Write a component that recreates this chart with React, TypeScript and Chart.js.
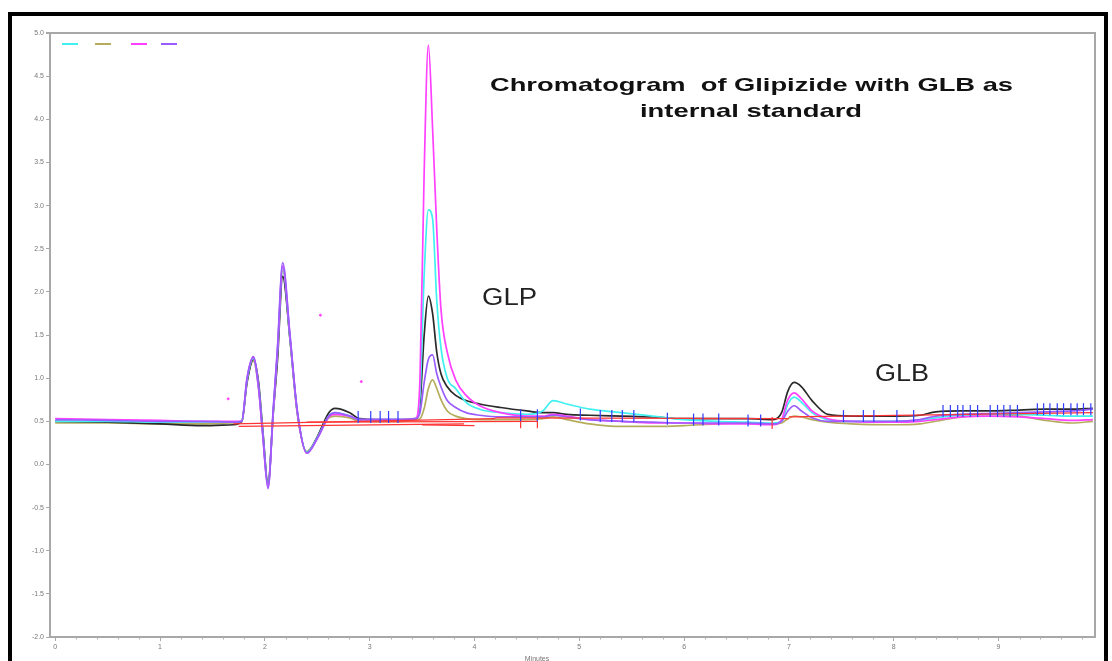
import React, { useEffect, useRef } from "react";
import { Chart, registerables } from "chart.js";

Chart.register(...registerables);

// Retention time (minutes) shared by the five chromatogram traces
const TIME = [
  0, 0.5, 1.0, 1.4, 1.7, 1.78, 1.83, 1.89, 1.94, 1.98,
  2.03, 2.08, 2.12, 2.17, 2.24, 2.31, 2.4, 2.5, 2.61, 2.67,
  2.81, 2.9, 3.1, 3.3, 3.44, 3.48, 3.52, 3.56, 3.6, 3.64,
  3.68, 3.74, 3.82, 3.92, 4.05, 4.25, 4.5, 4.65, 4.75, 4.88,
  5.1, 5.4, 5.7, 6.0, 6.3, 6.6, 6.85, 6.93, 6.99, 7.05,
  7.12, 7.22, 7.37, 7.6, 8.0, 8.25, 8.4, 8.65, 8.9, 9.2,
  9.45, 9.7, 9.9,
];

const BLACK_TRACE = [
  0.5, 0.49, 0.47, 0.45, 0.46, 0.5, 0.95, 1.22, 0.95, 0.4,
  -0.22, 0.6, 1.2, 2.18, 1.45, 0.6, 0.14, 0.32, 0.6, 0.65,
  0.6, 0.53, 0.52, 0.52, 0.53, 0.7, 1.5, 1.95, 1.75, 1.3,
  1.05, 0.9, 0.8, 0.74, 0.7, 0.66, 0.62, 0.6, 0.6, 0.58,
  0.57, 0.56, 0.55, 0.53, 0.53, 0.53, 0.52, 0.6, 0.85, 0.95,
  0.9, 0.74, 0.58, 0.56, 0.56, 0.57, 0.61, 0.62, 0.62, 0.63,
  0.64, 0.64, 0.65,
];

const PURPLE_TRACE = [
  0.52, 0.51, 0.5, 0.5, 0.49, 0.5, 1.0, 1.25, 0.9, 0.35,
  -0.28, 0.65, 1.35, 2.34, 1.5, 0.62, 0.13, 0.3, 0.56, 0.6,
  0.56, 0.52, 0.52, 0.52, 0.53, 0.6, 0.95, 1.22, 1.27, 1.05,
  0.9, 0.74, 0.66, 0.6, 0.57, 0.55, 0.55, 0.55, 0.57, 0.55,
  0.52, 0.5, 0.49, 0.48, 0.48, 0.48, 0.47, 0.5, 0.62, 0.68,
  0.62, 0.54, 0.5, 0.5, 0.5, 0.52, 0.56, 0.58, 0.59, 0.6,
  0.61, 0.62, 0.64,
];

const MAGENTA_TRACE = [
  0.53, 0.52, 0.51, 0.5, 0.5, 0.5, 1.0, 1.24, 0.88, 0.33,
  -0.27, 0.62, 1.32, 2.3, 1.48, 0.6, 0.13, 0.3, 0.55, 0.58,
  0.56, 0.52, 0.52, 0.52, 0.53, 1.0, 3.4, 4.86, 3.9, 2.72,
  1.8, 1.3, 0.98, 0.8, 0.68, 0.6, 0.56, 0.56, 0.58, 0.56,
  0.52, 0.5, 0.48, 0.48, 0.47, 0.47, 0.46, 0.52, 0.75, 0.83,
  0.76, 0.62, 0.53, 0.5, 0.49, 0.5, 0.52, 0.55, 0.56, 0.55,
  0.53, 0.51, 0.52,
];

const CYAN_TRACE = [
  0.5, 0.5, 0.49, 0.49, 0.49, 0.5, 0.98, 1.23, 0.9, 0.36,
  -0.25, 0.62, 1.3, 2.28, 1.46, 0.6, 0.14, 0.31, 0.56, 0.6,
  0.56, 0.52, 0.52, 0.52, 0.53, 0.8, 2.2, 2.95, 2.85, 1.9,
  1.35, 1.0, 0.88, 0.72, 0.64, 0.6, 0.58, 0.62, 0.74, 0.7,
  0.64, 0.6, 0.56, 0.52, 0.5, 0.49, 0.48, 0.5, 0.7, 0.78,
  0.72, 0.6, 0.52, 0.5, 0.5, 0.51, 0.54, 0.57, 0.58, 0.58,
  0.57, 0.56, 0.56,
];

const OLIVE_TRACE = [
  0.48, 0.48, 0.47, 0.47, 0.48, 0.49, 0.96, 1.2, 0.88, 0.36,
  -0.24, 0.6, 1.28, 2.25, 1.44, 0.58, 0.15, 0.31, 0.54, 0.56,
  0.54, 0.5, 0.5, 0.5, 0.52, 0.53, 0.65, 0.88, 0.98, 0.88,
  0.75, 0.62, 0.56, 0.53, 0.52, 0.52, 0.52, 0.53, 0.55, 0.52,
  0.47, 0.44, 0.44, 0.45, 0.47, 0.48, 0.47, 0.48, 0.53, 0.56,
  0.55, 0.52, 0.49, 0.47, 0.46, 0.47, 0.5, 0.55, 0.58, 0.56,
  0.51, 0.48, 0.5,
];

// Integration baselines (red straight segments)
const RED_SEG_X0 = [1.7, 1.75, 2.4, 3.5, 4.2, 7.0];
const RED_SEG_Y0 = [0.47, 0.44, 0.49, 0.46, 0.54, 0.55];
const RED_SEG_X1 = [4.2, 3.9, 4.6, 4.0, 7.0, 9.9];
const RED_SEG_Y1 = [0.53, 0.47, 0.5, 0.45, 0.53, 0.6];

// Peak start/end markers
const BLUE_TICK_T = [
  2.89, 3.01, 3.1, 3.18, 3.27, 4.44, 4.6, 5.01, 5.2, 5.31,
  5.41, 5.52, 5.84, 6.09, 6.18, 6.33, 6.61, 6.73, 7.52, 7.71,
  7.81, 8.03, 8.19, 8.47, 8.54, 8.61, 8.66, 8.73, 8.8, 8.92,
  8.99, 9.05, 9.11, 9.18, 9.37, 9.43, 9.49, 9.56, 9.62, 9.69,
  9.75, 9.81, 9.88,
];
const BLUE_TICK_Y = [
  0.55, 0.55, 0.55, 0.55, 0.55, 0.57, 0.57, 0.58, 0.56, 0.56,
  0.56, 0.56, 0.53, 0.52, 0.52, 0.52, 0.51, 0.51, 0.56, 0.56,
  0.56, 0.56, 0.56, 0.62, 0.62, 0.62, 0.62, 0.62, 0.62, 0.62,
  0.62, 0.62, 0.62, 0.62, 0.64, 0.64, 0.64, 0.64, 0.64, 0.64,
  0.64, 0.64, 0.64,
];
const RED_TICK_T = [4.44, 4.6, 6.84];
const RED_TICK_Y = [0.49, 0.49, 0.48];

const STRAY_T = [1.65, 2.53, 2.92];
const STRAY_Y = [0.76, 1.73, 0.96];

const X_MIN = -0.05;
const X_MAX = 9.92;
const Y_MIN = -2;
const Y_MAX = 5;

const TITLE_LINES = ["Chromatogram  of Glipizide with GLB as", "internal standard"];
const PEAK_LABELS = ["GLP", "GLB"];
const X_TITLE = "Minutes";

const C_CYAN = "#40f0f0";
const C_OLIVE = "#b5ad5c";
const C_MAGENTA = "#ff40ff";
const C_PURPLE = "#9a5cff";
const C_BLACK = "#2a2a2a";
const C_RED = "#ff3434";
const C_BLUE = "#2f3cff";
const LEGEND_COLORS = [C_CYAN, C_OLIVE, C_MAGENTA, C_PURPLE];

// draw text stretched horizontally so it spans the given width
function stretchText(ctx: CanvasRenderingContext2D, text: string, x: number, y: number, width: number) {
  const w = ctx.measureText(text).width;
  const sx = width / w;
  ctx.save();
  ctx.translate(x, y);
  ctx.scale(sx, 1);
  ctx.textAlign = "left";
  ctx.fillText(text, 0, 0);
  ctx.restore();
}

const annotPlugin = {
  id: "annot",
  afterDraw(chart: any) {
    const { ctx, chartArea: a, scales } = chart;
    const xs = scales.x;
    ctx.save();
    // top & right frame
    ctx.strokeStyle = "#a8a8a8";
    ctx.lineWidth = 2;
    ctx.beginPath();
    ctx.moveTo(a.left - 4, a.top);
    ctx.lineTo(a.right, a.top);
    ctx.lineTo(a.right, a.bottom);
    ctx.stroke();
    // minor x ticks
    ctx.lineWidth = 1;
    ctx.strokeStyle = "#b0b0b0";
    for (let v = 0.2; v < X_MAX; v += 0.2) {
      if (Math.abs(v - Math.round(v)) < 0.01) continue;
      const px = Math.round(xs.getPixelForValue(v)) + 0.5;
      ctx.beginPath();
      ctx.moveTo(px, a.bottom);
      ctx.lineTo(px, a.bottom + 2.5);
      ctx.stroke();
    }
    // legend dashes
    ctx.lineWidth = 2;
    const legX = [62, 95, 131, 161];
    LEGEND_COLORS.forEach((c, i) => {
      ctx.strokeStyle = c;
      ctx.beginPath();
      ctx.moveTo(legX[i], a.top + 11);
      ctx.lineTo(legX[i] + 16, a.top + 11);
      ctx.stroke();
    });
    // title
    ctx.fillStyle = "#111";
    ctx.textBaseline = "alphabetic";
    ctx.font = 'bold 19px "Liberation Sans", Arial, sans-serif';
    stretchText(ctx, TITLE_LINES[0], 490, 91, 523);
    stretchText(ctx, TITLE_LINES[1], 640, 117, 222);
    // peak labels
    ctx.fillStyle = "#222";
    ctx.font = '23px "Liberation Sans", Arial, sans-serif';
    stretchText(ctx, PEAK_LABELS[0], 482, 305, 55);
    stretchText(ctx, PEAK_LABELS[1], 875, 381, 54);
    // x axis title
    ctx.fillStyle = "#777";
    ctx.font = '7px "Liberation Sans", Arial, sans-serif';
    ctx.textAlign = "center";
    ctx.fillText(X_TITLE, 537, 661);
    ctx.restore();
  },
};

export default function App() {
  const ref = useRef<HTMLCanvasElement>(null);

  useEffect(() => {
    const canvas = ref.current;
    if (!canvas) return;
    const pts = (ys: number[]) => TIME.map((t, i) => ({ x: t, y: ys[i] }));
    const trace = (label: string, ys: number[], color: string) => ({
      label,
      data: pts(ys),
      borderColor: color,
      backgroundColor: color,
      borderWidth: 1.7,
      pointRadius: 0,
      cubicInterpolationMode: "monotone" as const,
      fill: false,
    });
    const redSegs = RED_SEG_X0.map((x0, i) => ({
      label: "baseline " + (i + 1),
      data: [
        { x: x0, y: RED_SEG_Y0[i] },
        { x: RED_SEG_X1[i], y: RED_SEG_Y1[i] },
      ],
      borderColor: C_RED,
      borderWidth: 1.3,
      pointRadius: 0,
      tension: 0,
      fill: false,
    }));
    const tickSet = (label: string, ts: number[], ys: number[], color: string, r: number) => ({
      label,
      data: ts.map((t, i) => ({ x: t, y: ys[i] })),
      showLine: false,
      pointStyle: "line" as const,
      rotation: 90,
      pointRadius: r,
      pointHoverRadius: r,
      borderColor: color,
      backgroundColor: color,
      pointBorderWidth: 1.2,
      borderWidth: 1.2,
    });

    const chart = new Chart(canvas, {
      type: "line",
      data: {
        datasets: [
          tickSet("blue marks", BLUE_TICK_T, BLUE_TICK_Y, C_BLUE, 6),
          tickSet("red marks", RED_TICK_T, RED_TICK_Y, C_RED, 6),
          ...redSegs,
          trace("Purple", PURPLE_TRACE, C_PURPLE),
          trace("Magenta", MAGENTA_TRACE, C_MAGENTA),
          trace("Cyan", CYAN_TRACE, C_CYAN),
          trace("Black", BLACK_TRACE, C_BLACK),
          trace("Olive", OLIVE_TRACE, C_OLIVE),
          {
            label: "stray",
            data: STRAY_T.map((t, i) => ({ x: t, y: STRAY_Y[i] })),
            showLine: false,
            pointRadius: 1,
            borderColor: C_MAGENTA,
            backgroundColor: C_MAGENTA,
          },
        ] as any,
      },
      options: {
        animation: false,
        responsive: false,
        events: [],
        layout: { padding: { left: 0, right: 17, top: 33, bottom: 0 } },
        plugins: {
          legend: { display: false },
          title: { display: false },
          tooltip: { enabled: false },
        },
        scales: {
          x: {
            type: "linear",
            min: X_MIN,
            max: X_MAX,
            afterFit: (s: any) => {
              s.height = 24;
            },
            afterBuildTicks: (s: any) => {
              s.ticks = [0, 1, 2, 3, 4, 5, 6, 7, 8, 9].map((v) => ({ value: v }));
            },
            ticks: {
              autoSkip: false,
              maxRotation: 0,
              padding: 2,
              color: "#777",
              font: { size: 7, family: '"Liberation Sans", Arial, sans-serif' },
              callback: (v: any) => String(v),
            } as any,
            grid: {
              drawOnChartArea: false,
              drawTicks: true,
              tickLength: 4,
              color: "#a8a8a8",
            },
            border: { display: true, color: "#a8a8a8", width: 2 },
          },
          y: {
            type: "linear",
            min: Y_MIN,
            max: Y_MAX,
            afterFit: (s: any) => {
              s.width = 50;
            },
            ticks: {
              stepSize: 0.5,
              includeBounds: false,
              autoSkip: false,
              padding: 2,
              color: "#777",
              font: { size: 7, family: '"Liberation Sans", Arial, sans-serif' },
              callback: (v: any) => Number(v).toFixed(1),
            } as any,
            grid: {
              drawOnChartArea: false,
              drawTicks: true,
              tickLength: 4,
              color: "#a8a8a8",
            },
            border: { display: true, color: "#a8a8a8", width: 2 },
          },
        },
      },
      plugins: [annotPlugin],
    });
    return () => chart.destroy();
  }, []);

  return (
    <div
      style={{
        position: "fixed",
        left: 0,
        top: 0,
        width: 1112,
        height: 661,
        overflow: "hidden",
        background: "#fff",
      }}
    >
      <div
        style={{
          position: "absolute",
          left: 8,
          top: 12,
          width: 1092,
          height: 700,
          border: "4px solid #000",
          borderBottom: "none",
        }}
      />
      <canvas
        ref={ref}
        width={1112}
        height={661}
        style={{ position: "absolute", left: 0, top: 0, width: 1112, height: 661 }}
      />
    </div>
  );
}
